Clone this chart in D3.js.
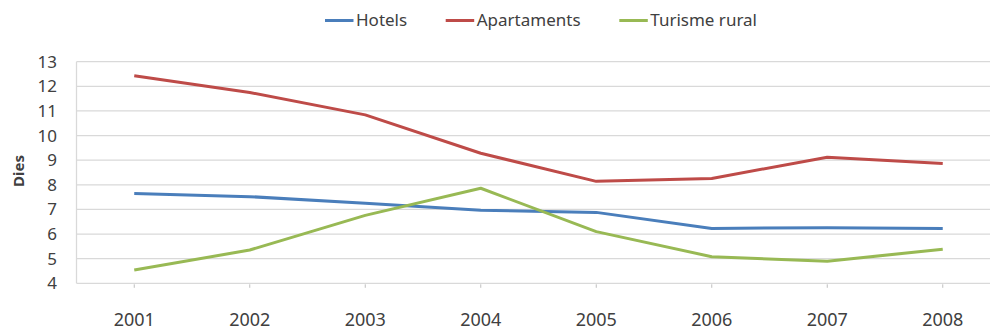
<!DOCTYPE html>
<html><head><meta charset="utf-8">
<script src="https://cdn.jsdelivr.net/npm/d3@7"></script>
<style>body{margin:0;background:#fff}svg{display:block}text{font-family:"Noto Sans",sans-serif;fill:#404040}</style>
</head><body><svg id="c" width="990" height="331"></svg>
<script>
const years = ["2001","2002","2003","2004","2005","2006","2007","2008"];
const hotels = [7.65, 7.52, 7.25, 6.97, 6.88, 6.23, 6.26, 6.23];
const apartaments = [12.43, 11.75, 10.84, 9.28, 8.14, 8.26, 9.12, 8.87];
const rural = [4.54, 5.35, 6.76, 7.86, 6.10, 5.08, 4.90, 5.38];
const seriesNames = ["Hotels", "Apartaments", "Turisme rural"];
const yTicks = [4,5,6,7,8,9,10,11,12,13];
const colors = ["#4a7ebb", "#be4b48", "#98b954"];

const series = [hotels, apartaments, rural];
const svg = d3.select("#c");
const x = d3.scaleBand().domain(years).range([76.5, 1000.5]);
const y = d3.scaleLinear().domain([4,13]).range([283.3, 61.7]);
const cx = d => x(d) + x.bandwidth()/2;

// gridlines
svg.append("g").selectAll("line").data(yTicks.slice(1)).join("line")
  .attr("x1", 76.5).attr("x2", 990).attr("y1", d=>y(d)).attr("y2", d=>y(d))
  .attr("stroke", "#d9d9d9").attr("stroke-width", 1.3);
// axes lines
svg.append("line").attr("x1",76.5).attr("x2",76.5).attr("y1",y(13)).attr("y2",y(4)).attr("stroke","#d9d9d9").attr("stroke-width",1.3);
svg.append("line").attr("x1",76.5).attr("x2",990).attr("y1",y(4)).attr("y2",y(4)).attr("stroke","#d9d9d9").attr("stroke-width",1.3);
svg.append("g").selectAll("line").data(years).join("line")
  .attr("x1", d=>cx(d)).attr("x2", d=>cx(d)).attr("y1", y(4)+1).attr("y2", y(4)+4.5)
  .attr("stroke", "#bfbfbf").attr("stroke-width", 1);

// y labels
svg.append("g").selectAll("text").data(yTicks).join("text")
  .attr("x", 57).attr("y", d=>y(d)).attr("dy","0.35em").attr("text-anchor","end")
  .style("font-size","17px").text(d=>d);
// x labels
svg.append("g").selectAll("text").data(years).join("text")
  .attr("x", d=>cx(d)).attr("y", 325.5).attr("text-anchor","middle")
  .style("font-size","18px").text(d=>d);
// y title
svg.append("text").attr("transform","translate(23.5,171) rotate(-90)").attr("text-anchor","middle")
  .style("font-size","15px").style("font-weight","bold").text("Dies");

// lines
const line = d3.line().x((d,i)=>cx(years[i])).y(d=>y(d));
svg.append("g").selectAll("path").data(series).join("path")
  .attr("d", d=>line(d)).attr("fill","none").attr("stroke",(d,i)=>colors[i])
  .attr("stroke-width",3).attr("stroke-linejoin","round");

// legend
const legX = [325, 445.7, 619.3];
const lg = svg.append("g").selectAll("g").data(seriesNames).join("g")
  .attr("transform",(d,i)=>`translate(${legX[i]},20.5)`);
lg.append("line").attr("x1",0).attr("x2",28.5).attr("stroke",(d,i)=>colors[i]).attr("stroke-width",3);
lg.append("text").attr("x",31).attr("dy","0.35em").style("font-size","17px").text(d=>d);
</script></body></html>
